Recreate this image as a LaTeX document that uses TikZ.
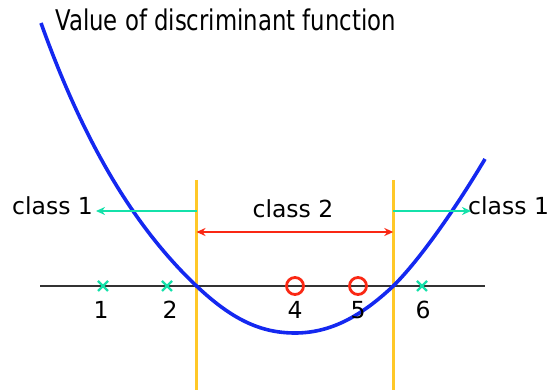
\documentclass[tikz,border=0pt]{standalone}
\usepackage{fontspec}
\setmainfont{DejaVu Sans}
\newfontfamily\titlefont[FakeStretch=0.8]{DejaVu Sans}
\usetikzlibrary{arrows.meta}
\definecolor{tealc}{RGB}{20,225,170}
\definecolor{redc}{RGB}{250,40,20}
\definecolor{yelc}{RGB}{255,200,40}
\definecolor{bluec}{RGB}{20,40,240}
\tikzset{
  lbl/.style={inner sep=0pt, font=\fontsize{23.5}{28}\selectfont},
  numlbl/.style={inner sep=0pt, anchor=base, font=\fontsize{23.5}{28}\selectfont},
  boundary/.style={draw=yelc, line width=2.4pt},
  tealarrow/.style={draw=tealc, line width=2.4pt, -{Stealth[length=9pt,width=8pt]}},
  redarrow/.style={draw=redc, line width=2.4pt, {Stealth[length=9pt,width=8pt]}-{Stealth[length=9pt,width=8pt]}},
  xmark/.style={draw=tealc, line width=2.2pt},
  omark/.style={draw=redc, line width=2.8pt, circle, minimum size=17pt, inner sep=0pt},
  curve/.style={draw=bluec, line width=3.6pt, line join=round},
}
\begin{document}
\begin{tikzpicture}[x=1pt,y=-1pt]
\useasboundingbox (0,0) rectangle (550,390);
% axis
\coordinate (axl) at (40,286);
\coordinate (axr) at (485,286);
\draw[black!80, line width=1.3pt] (axl) -- (axr);
% boundaries
\coordinate (b1t) at (196.5,180);
\coordinate (b1b) at (196.5,390);
\coordinate (b2t) at (393.3,180);
\coordinate (b2b) at (393.3,390);
\draw[boundary] (b1t) -- (b1b);
\draw[boundary] (b2t) -- (b2b);
% curve
\coordinate (cs) at (41,23);
\coordinate (cx1) at (196.5,286);
\coordinate (cm) at (295,333);
\coordinate (cx2) at (393.3,286);
\coordinate (ce) at (485,159);
\draw[curve] (cs) .. controls (91,163) and (146.5,238.5) .. (cx1)
  .. controls (231.5,319) and (260,333) .. (cm)
  .. controls (330,333) and (360.3,317) .. (cx2)
  .. controls (423.3,256) and (460,201) .. (ce);
% title
\node[inner sep=0pt, anchor=base west, font=\titlefont\fontsize{28.5}{34}\selectfont] (title) at (55,31) {Value of discriminant function};
% class labels
\node[lbl, anchor=base west] (c1l) at (12,215) {class 1};
\node[lbl, anchor=base] (c2) at (293,218) {class 2};
\node[lbl, anchor=base west] (c1r) at (468,215) {class 1};
% arrows
\coordinate (a1s) at (196.5,211);
\coordinate (a1e) at (96,211);
\coordinate (a2s) at (393.3,211);
\coordinate (a2e) at (471,211);
\coordinate (r1) at (196.5,232);
\coordinate (r2) at (393.3,232);
\draw[tealarrow] (a1s) -- (a1e);
\draw[tealarrow] (a2s) -- (a2e);
\draw[redarrow] (r1) -- (r2);
% crosses
\foreach \n/\x in {x1/103, x2/167, x6/422}{
  \coordinate (\n) at (\x,286);
  \draw[xmark] ([shift={(-5,-5)}]\n) -- ([shift={(5,5)}]\n);
  \draw[xmark] ([shift={(-5,5)}]\n) -- ([shift={(5,-5)}]\n);
}
% circles
\node[omark] (o4) at (295,286) {};
\node[omark] (o5) at (358,286) {};
% numbers
\node[numlbl] (n1) at (101,319) {1};
\node[numlbl] (n2) at (170,319) {2};
\node[numlbl] (n4) at (295,319) {4};
\node[numlbl] (n5) at (358,319) {5};
\node[numlbl] (n6) at (423,319) {6};
\end{tikzpicture}
\end{document}
